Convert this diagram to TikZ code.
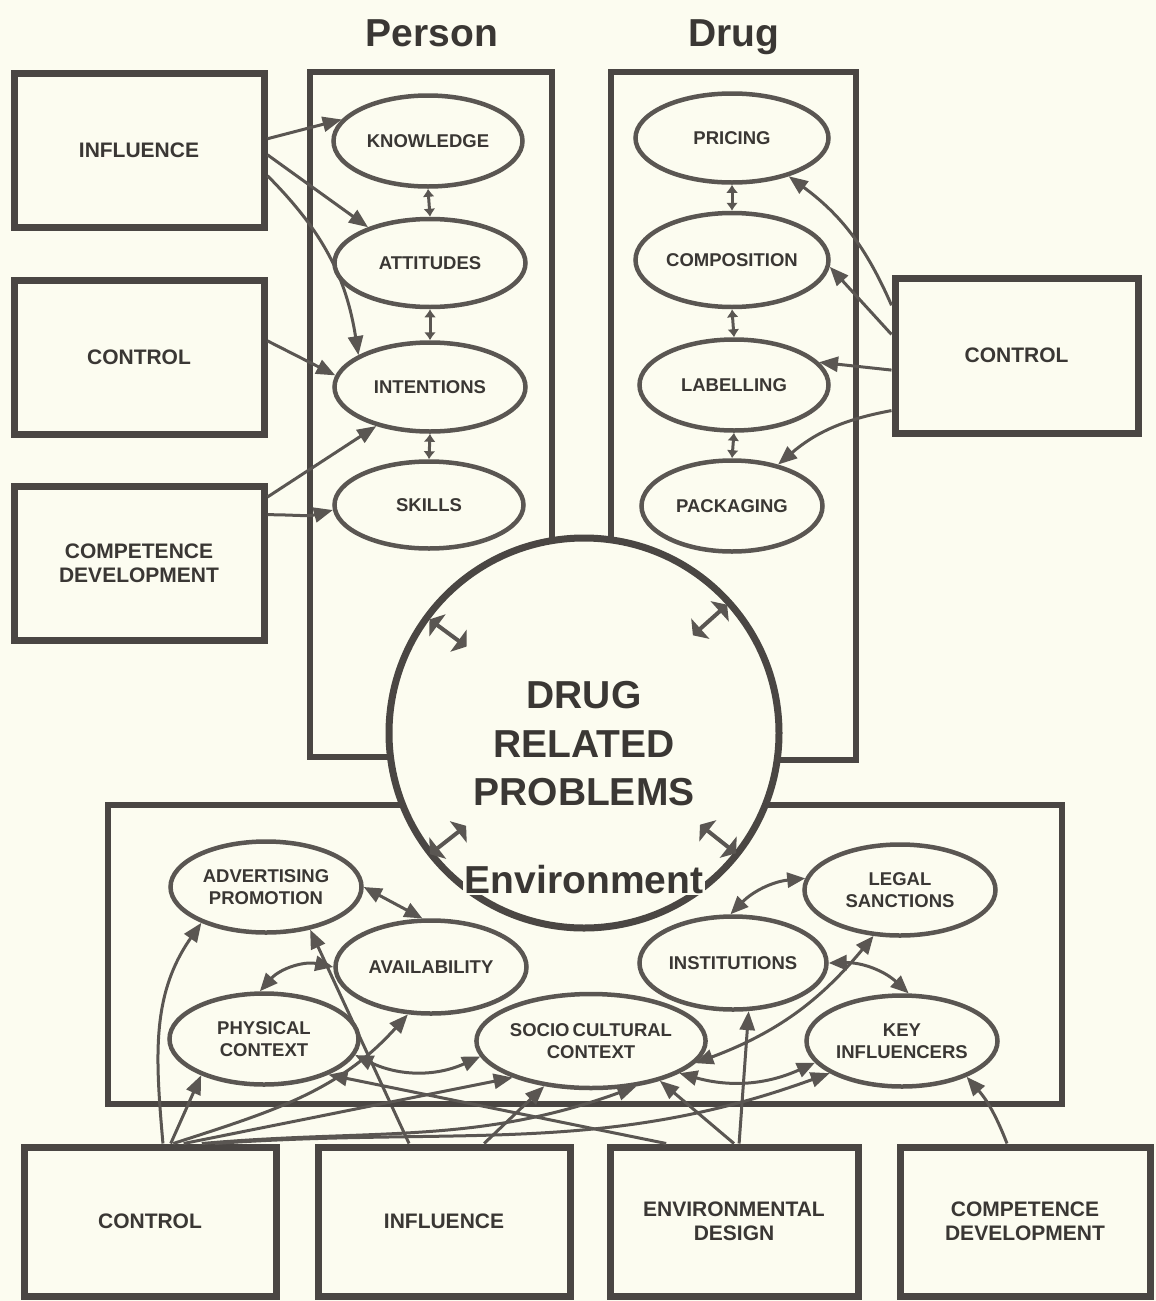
\documentclass[tikz,border=0pt]{standalone}
\usepackage{fontspec}
\setmainfont{Liberation Sans}
\usetikzlibrary{shapes.geometric,arrows.meta,calc}
\pgfdeclarelayer{bgl}
\pgfdeclarelayer{under}
\pgfsetlayers{bgl,under,main}
\definecolor{bgc}{RGB}{252,252,240}
\definecolor{ink}{RGB}{90,86,82}
\definecolor{boxink}{RGB}{74,70,67}
\definecolor{txt}{RGB}{58,55,52}
\tikzset{
  bigbox/.style={draw=boxink, line width=7pt, minimum width=250pt, minimum height=154pt, inner sep=0pt, align=center, text=txt, font=\fontsize{21}{24}\selectfont\bfseries},
  ell/.style={ellipse, draw=ink, line width=4.5pt, fill=bgc, inner sep=0pt, align=center, text=txt, font=\fontsize{18.5}{21.5}\selectfont\bfseries},
  conn/.style={draw=ink, line width=3pt, -{Triangle[length=19pt,width=15pt]}},
  dconn/.style={draw=ink, line width=3pt, {Triangle[length=18pt,width=15pt]}-{Triangle[length=18pt,width=15pt]}},
  twinsmall/.style={draw=ink, line width=3pt, {Latex[length=8pt,width=12pt]}-{Latex[length=8pt,width=12pt]}},
  radialarrow/.style={draw=ink, line width=4pt, {Triangle[length=10pt,width=27pt]}-{Triangle[length=10pt,width=27pt]}},
  title/.style={anchor=base, text=txt, font=\fontsize{39}{40}\selectfont\bfseries},
  outline/.style={draw=boxink, line width=6.5pt}
}
\begin{document}
\begin{tikzpicture}[x=1pt,y=-1pt]
\useasboundingbox (0,0) rectangle (1156,1301);
\begin{pgfonlayer}{bgl}
\fill[bgc] (0,0) rectangle (1156,1301);
\end{pgfonlayer}

% titles
\node[title] (tperson) at (432,46) {Person};
\node[title] (tdrug) at (734,46) {Drug};

% group frames
\draw[outline] (310,72) rectangle (552,757);
\draw[outline] (611,72) rectangle (856,760);
\draw[outline] (108,805) rectangle (1062,1104);

% side boxes
\node[bigbox] (inflL) at (139,150) {INFLUENCE};
\node[bigbox] (ctrlL) at (139,357) {CONTROL};
\node[bigbox] (compL) at (139,563) {COMPETENCE\\DEVELOPMENT};
\node[bigbox, minimum width=243pt, minimum height=155pt] (ctrlR) at (1016.5,355.5) {CONTROL};

% bottom boxes
\node[bigbox, minimum width=252pt, minimum height=149pt] (ctrlB) at (150,1221.5) {CONTROL};
\node[bigbox, minimum width=252pt, minimum height=149pt] (inflB) at (444,1221.5) {INFLUENCE};
\node[bigbox, minimum width=248pt, minimum height=149pt] (envB) at (734,1221.5) {ENVIRONMENTAL\\DESIGN};
\node[bigbox, minimum width=250pt, minimum height=149pt] (compB) at (1025,1221.5) {COMPETENCE\\DEVELOPMENT};

% central circle
\node[circle, draw=boxink, line width=7pt, fill=bgc, minimum size=390pt, inner sep=0pt] (drp) at (584,733) {};
\node[title] (t1) at (584,708) {DRUG};
\node[title] (t2) at (584,757) {RELATED};
\node[title] (t3) at (584,805) {PROBLEMS};
\node[title, fill=bgc, inner sep=2pt] (envlab) at (584,893) {Environment};

% radial double arrows in the circle
\coordinate (r1a) at (429.5,619.4); \coordinate (r1b) at (466.5,646.6);
\coordinate (r2a) at (692.9,635.3); \coordinate (r2b) at (727.1,604.7);
\coordinate (r3a) at (429.9,854.2); \coordinate (r3b) at (466.1,825.8);
\coordinate (r4a) at (700,824.7); \coordinate (r4b) at (736,853.3);
\draw[radialarrow] (r1a) -- (r1b);
\draw[radialarrow] (r2a) -- (r2b);
\draw[radialarrow] (r3a) -- (r3b);
\draw[radialarrow] (r4a) -- (r4b);

% person ellipses
\node[ell, minimum width=189pt, minimum height=91pt] (know) at (428,141) {KNOWLEDGE};
\node[ell, minimum width=191pt, minimum height=88pt] (att) at (430,263) {ATTITUDES};
\node[ell, minimum width=191pt, minimum height=89pt] (intn) at (430,387) {INTENTIONS};
\node[ell, minimum width=189pt, minimum height=87pt] (skil) at (429,505) {SKILLS};

% drug ellipses
\node[ell, minimum width=193pt, minimum height=89pt] (pric) at (732,138) {PRICING};
\node[ell, minimum width=193pt, minimum height=94pt] (compo) at (732,260) {COMPOSITION};
\node[ell, minimum width=189pt, minimum height=91pt] (label) at (734,385) {LABELLING};
\node[ell, minimum width=181pt, minimum height=91pt] (pack) at (732,506) {PACKAGING};

% environment ellipses
\node[ell, minimum width=191pt, minimum height=91pt] (adv) at (266,887) {ADVERTISING\\PROMOTION};
\node[ell, minimum width=191pt, minimum height=93pt] (avail) at (431,967) {AVAILABILITY};
\node[ell, minimum width=189pt, minimum height=91pt] (phys) at (264,1039) {PHYSICAL\\CONTEXT};
\node[ell, minimum width=191pt, minimum height=94pt] (socio) at (591,1041) {SOCIO\,CULTURAL\\CONTEXT};
\node[ell, minimum width=187pt, minimum height=93pt] (inst) at (733,963) {INSTITUTIONS};
\node[ell, minimum width=191pt, minimum height=91pt] (legal) at (900,890) {LEGAL\\SANCTIONS};
\node[ell, minimum width=191pt, minimum height=91pt] (key) at (902,1041) {KEY\\INFLUENCERS};

% line passing behind PHYSICAL CONTEXT
\begin{pgfonlayer}{under}
\draw[conn] ($(inflB.north west)!0.365!(inflB.north east)$) -- (adv.316);
\end{pgfonlayer}

% person connectors
\draw[conn] ($(inflL.north east)!0.43!(inflL.south east)$) -- (know.166);
\draw[conn] ($(inflL.north east)!0.53!(inflL.south east)$) -- (att.150);
\draw[conn] ($(inflL.north east)!0.66!(inflL.south east)$) to[bend left=18] (intn.156);
\draw[conn] ($(ctrlL.north east)!0.40!(ctrlL.south east)$) -- (intn.173);
\draw[conn] ($(compL.north east)!0.09!(compL.south east)$) -- (intn.216);
\draw[conn] ($(compL.north east)!0.20!(compL.south east)$) to[out=0,in=195] (skil.183);
\draw[twinsmall] (know.south) -- (att.north);
\draw[twinsmall] (att.south) -- (intn.north);
\draw[twinsmall] (intn.south) -- (skil.north);

% drug connectors
\draw[conn] ($(ctrlR.north west)!0.19!(ctrlR.south west)$) to[bend right=15] (pric.326);
\draw[conn] ($(ctrlR.north west)!0.37!(ctrlR.south west)$) -- (compo.356);
\draw[conn] ($(ctrlR.north west)!0.59!(ctrlR.south west)$) -- (label.15);
\draw[conn] ($(ctrlR.north west)!0.84!(ctrlR.south west)$) to[bend right=15] (pack.42);
\draw[twinsmall] (pric.south) -- (compo.north);
\draw[twinsmall] (compo.south) -- (label.north);
\draw[twinsmall] (label.south) -- (pack.north);

% environment internal links
\draw[dconn] (adv.0) -- (avail.100);
\draw[dconn] (avail.180) to[bend right=30] (phys.95);
\draw[dconn] (phys.350) to[bend right=25] (socio.188);
\draw[dconn] (socio.340) to[bend right=20] (key.194);
\draw[dconn] (socio.348) to[bend right=15] (legal.240);
\draw[dconn] (inst.93) to[bend left=20] (legal.173);
\draw[dconn] (inst.0) to[bend left=22] (key.82);

% bottom CONTROL
\draw[conn] ($(ctrlB.north west)!0.55!(ctrlB.north east)$) to[out=95,in=235] (adv.209);
\draw[conn] ($(ctrlB.north west)!0.58!(ctrlB.north east)$) -- (phys.210);
\draw[conn] ($(ctrlB.north west)!0.59!(ctrlB.north east)$) to[out=18,in=228] (avail.244);
\draw[conn] ($(ctrlB.north west)!0.63!(ctrlB.north east)$) -- (socio.205);
\draw[conn] ($(ctrlB.north west)!0.70!(ctrlB.north east)$) to[out=5,in=200] (socio.315);
\draw[conn] ($(ctrlB.north west)!0.75!(ctrlB.north east)$) to[out=4,in=200] (key.204);

% bottom INFLUENCE
\draw[conn] ($(inflB.north west)!0.655!(inflB.north east)$) -- (socio.224);

% bottom ENVIRONMENTAL DESIGN
\draw[conn] ($(envB.north west)!0.234!(envB.north east)$) -- (phys.331);
\draw[conn] ($(envB.north west)!0.50!(envB.north east)$) -- (socio.330);
\draw[conn] ($(envB.north west)!0.52!(envB.north east)$) -- (inst.288);

% bottom COMPETENCE DEVELOPMENT
\draw[conn] ($(compB.north west)!0.43!(compB.north east)$) to[bend right=10] (key.331);
\end{tikzpicture}
\end{document}
